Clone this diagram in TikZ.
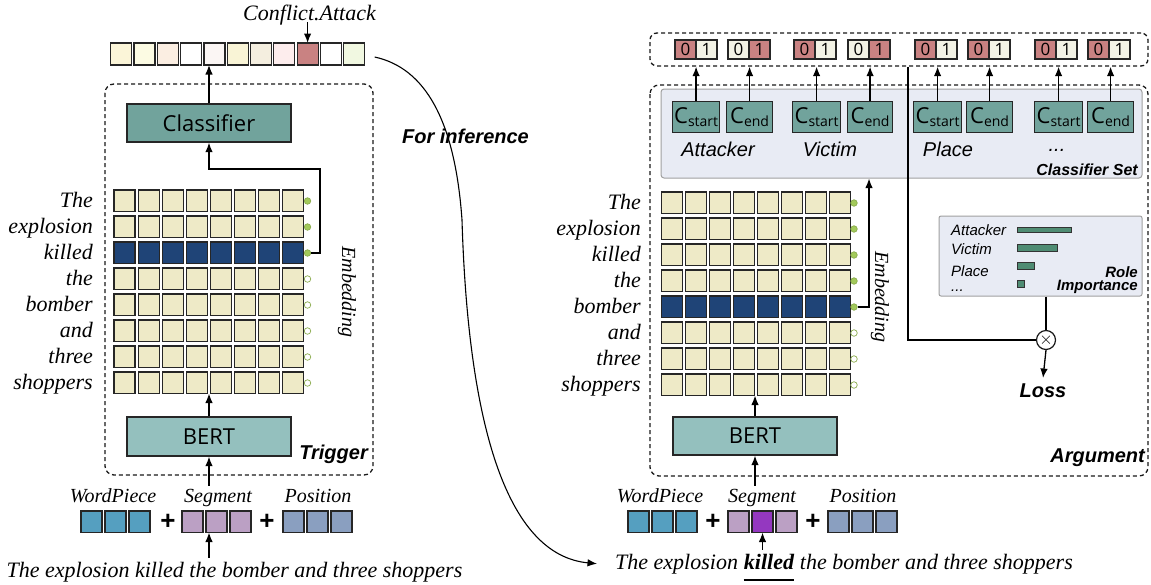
\documentclass[tikz,border=0pt]{standalone}
\usepackage{fontspec}
\setmainfont{Liberation Serif}
\setsansfont{Liberation Sans}
\newfontfamily\osans{Open Sans}
\usetikzlibrary{arrows.meta}
\newcommand\myfs[1]{\fontsize{#1}{#1}\selectfont}
\definecolor{cellY}{HTML}{EEEAC7}
\definecolor{cellB}{HTML}{1F4477}
\definecolor{dotG}{HTML}{A2C95A}
\definecolor{clfC}{HTML}{71A39C}
\definecolor{bertC}{HTML}{94C0BE}
\definecolor{redC}{HTML}{C98282}
\definecolor{lightC}{HTML}{F3F3E6}
\definecolor{setF}{HTML}{E8EBF4}
\definecolor{setD}{HTML}{A0A0A0}
\definecolor{barC}{HTML}{4F8C73}
\definecolor{wpC}{HTML}{559FC0}
\definecolor{segC}{HTML}{BBA0C4}
\definecolor{posC}{HTML}{8A9FC0}
\definecolor{segD}{HTML}{9438C0}
\definecolor{v0}{HTML}{FBF5D8}
\definecolor{v1}{HTML}{FCFBE3}
\definecolor{v2}{HTML}{FBEEE2}
\definecolor{v3}{HTML}{FFFFFF}
\definecolor{v4}{HTML}{FBF6F4}
\definecolor{v5}{HTML}{F9F4D6}
\definecolor{v6}{HTML}{F4EEDF}
\definecolor{v7}{HTML}{FDEDED}
\definecolor{v8}{HTML}{C98282}
\definecolor{v9}{HTML}{FFFFFF}
\definecolor{v10}{HTML}{F1F8E1}
\begin{document}
\begin{tikzpicture}[x=1pt,y=-1pt,
  cell/.style={draw=black!85, line width=1.2pt, minimum width=21pt, minimum height=21.5pt, inner sep=0pt, outer sep=0pt, anchor=north west},
  pcell/.style={cell, minimum height=19pt, font=\osans\myfs{17}},
  cbox/.style={draw=black!85, line width=1.2pt, fill=clfC, minimum height=31pt, inner sep=0pt, anchor=north west, font=\osans\myfs{22}},
  wordlbl/.style={font=\myfs{22}\itshape, anchor=base east, inner sep=0pt},
  lbl/.style={font=\myfs{20}\itshape, anchor=base, inner sep=0pt},
  sent/.style={font=\myfs{22}\itshape, inner sep=0pt},
  slbl/.style={font=\sffamily\itshape\myfs{20}, anchor=base, inner sep=0pt},
  bslbl/.style={font=\sffamily\bfseries\itshape\myfs{20}, inner sep=0pt},
  rlbl/.style={font=\sffamily\itshape\myfs{15}, anchor=base west, inner sep=0pt},
  plus/.style={font=\sffamily\bfseries\myfs{26}, inner sep=0pt},
  dot/.style={circle, draw=dotG!85!black, minimum size=6.5pt, inner sep=0pt, line width=0.7pt},
  arr/.style={-{Latex[length=9.5pt,width=7.5pt]}, line width=1.3pt},
  frame/.style={draw=black!90, dash pattern=on 4pt off 3pt, line width=1.3pt, rounded corners=9pt},
  bigbox/.style={draw=black!85, line width=1.3pt, inner sep=0pt, font=\osans\myfs{22}},
  bar/.style={draw=black!80, fill=barC, line width=0.8pt, inner sep=0pt, anchor=west},
  panel/.style={draw=setD, fill=setF, line width=1pt, inner sep=0pt}
]
\useasboundingbox (0,0) rectangle (1151,584);

%% ================= LEFT (Trigger) =================
\draw[frame] (105,84) rectangle (373,475);

% output vector
\foreach \c in {0,...,10}{
  \node[cell, minimum height=22pt, fill=v\c] (V\c) at ({110.7+23.3*\c},43) {};
}
\node[sent, anchor=base] (ca) at (309.5,20) {Conflict.Attack};
\draw[arr] ([yshift=-2pt]V8.north |- ca.base) -- (V8.north);

% classifier
\node[bigbox, fill=clfC, minimum width=164pt, minimum height=38pt] (clfL) at (209,123) {Classifier};
\draw[arr] (clfL.north) -- (clfL.north |- V4.south);

% grid
\foreach \r/\fc in {0/cellY,1/cellY,2/cellB,3/cellY,4/cellY,5/cellY,6/cellY,7/cellY}{
  \foreach \c in {0,...,7}{
    \node[cell, fill=\fc] (L\r-\c) at ({114+24.1*\c},{190+26*\r}) {};
  }
}
\foreach \r/\dfc in {0/dotG,1/dotG,2/dotG,3/white,4/white,5/white,6/white,7/white}{
  \node[dot, fill=\dfc] (Ld\r) at (307.5,{201+26*\r}) {};
}
\foreach \r/\w in {0/The,1/explosion,2/killed,3/the,4/bomber,5/and,6/three,7/shoppers}{
  \node[wordlbl] (Lw\r) at (93,{207.5+26*\r}) {\w};
}
\node[lbl, anchor=center, rotate=-90] (embL) at (347,292) {Embedding};
\coordinate (LeL) at (320,169);
\draw[arr] (Ld2.east) -| (LeL) -| (clfL.south);

% BERT
\node[bigbox, fill=bertC, minimum width=164pt, minimum height=39pt] (bertL) at (209,436.5) {BERT};
\draw[arr] (bertL.north) -- (bertL.north |- L7-0.south);
\node[bslbl, anchor=base east] (trig) at (368,459) {Trigger};

% input embeddings
\foreach \i/\x in {0/81,1/105,2/129}{ \node[cell, fill=wpC] (LW\i) at (\x,511) {}; }
\foreach \i/\x in {0/182,1/206,2/230}{ \node[cell, fill=segC] (LS\i) at (\x,511) {}; }
\foreach \i/\x in {0/283,1/307,2/331}{ \node[cell, fill=posC] (LP\i) at (\x,511) {}; }
\node[plus] (Lpl1) at (168,522) {+};
\node[plus] (Lpl2) at (267,522) {+};
\node[lbl] (LwpL) at (113,502) {WordPiece};
\node[lbl] (LsegL) at (218,502) {Segment};
\node[lbl] (LposL) at (318,502) {Position};
\draw[arr] ([yshift=3pt]bertL.south |- LsegL.north) -- (bertL.south);
\node[sent, anchor=base] (sentL) at (234.5,577) {The explosion killed the bomber and three shoppers};
\draw[arr] ([yshift=4pt]bertL.south |- sentL.north) -- (bertL.south |- LS1.south);

%% ================= RIGHT (Argument) =================
\draw[frame] (650,85) rectangle (1148,476);
\node[frame, rounded corners=7pt, minimum width=498pt, minimum height=33pt, inner sep=0pt] (topR) at (899,49.5) {};

% 0/1 pairs
\foreach \i/\x/\a/\b in {0/675/redC/lightC,1/728/lightC/redC,2/794/redC/lightC,3/848/lightC/redC,4/915/redC/lightC,5/968/redC/lightC,6/1035/redC/lightC,7/1088/redC/lightC}{
  \node[pcell, fill=\a] (P\i-0) at (\x,40) {0};
  \node[pcell, fill=\b] (P\i-1) at ({\x+21},40) {1};
}

% classifier set
\node[panel, rounded corners=3pt, minimum width=481pt, minimum height=89pt] (cset) at (901.5,133.5) {};
\foreach \i/\x/\w/\t in {0/672/47/start,1/726/46/end,2/792/48/start,3/847/45/end,4/913/48/start,5/966/46/end,6/1034/48/start,7/1087/46/end}{
  \node[cbox, minimum width=\w pt] (C\i) at (\x,101) {C\raisebox{-3pt}{\myfs{14}\t}};
  \draw[arr] (C\i.north) -- (C\i.north |- topR.south);
}
\node[slbl] (attL) at (718,156) {Attacker};
\node[slbl] (vicL) at (830,156) {Victim};
\node[slbl] (plaL) at (948,156) {Place};
\node[slbl] (dotsL) at (1057,151) {...};
\node[bslbl, font=\sffamily\bfseries\itshape\myfs{16}, anchor=base east] (csL) at (1138,175) {Classifier Set};

% grid
\foreach \r/\fc in {0/cellY,1/cellY,2/cellY,3/cellY,4/cellB,5/cellY,6/cellY,7/cellY}{
  \foreach \c in {0,...,7}{
    \node[cell, fill=\fc] (R\r-\c) at ({661.7+24*\c},{192+26*\r}) {};
  }
}
\foreach \r/\dfc in {0/dotG,1/dotG,2/dotG,3/dotG,4/dotG,5/white,6/white,7/white}{
  \node[dot, fill=\dfc] (Rd\r) at (854,{203+26*\r}) {};
}
\foreach \r/\w in {0/The,1/explosion,2/killed,3/the,4/bomber,5/and,6/three,7/shoppers}{
  \node[wordlbl] (Rw\r) at (641,{209.5+26*\r}) {\w};
}
\node[lbl, anchor=center, rotate=-90] (embR) at (880,297) {Embedding};
\coordinate (eR) at (869,307);
\draw[arr] (Rd4.east) -- (eR) -- (eR |- cset.south);

% role importance
\node[panel, rounded corners=2pt, minimum width=203pt, minimum height=80pt] (ri) at (1040.5,256) {};
\node[rlbl] (ra1) at (951,235.5) {Attacker};
\node[rlbl] (ra2) at (951,254.5) {Victim};
\node[rlbl] (ra3) at (951,276.5) {Place};
\node[rlbl] (ra4) at (951,291) {...};
\node[bar, minimum width=54pt, minimum height=5pt] (b1) at (1017,229.8) {};
\node[bar, minimum width=40pt, minimum height=6.5pt] (b2) at (1017,247.7) {};
\node[bar, minimum width=17pt, minimum height=6.5pt] (b3) at (1017,266) {};
\node[bar, minimum width=7pt, minimum height=7pt] (b4) at (1017,283.7) {};
\node[bslbl, font=\sffamily\bfseries\itshape\myfs{15}, anchor=base east] (roleL) at (1138,277) {Role};
\node[bslbl, font=\sffamily\bfseries\itshape\myfs{15}, anchor=base east] (impL) at (1138,290.5) {Importance};

% combine
\node[circle, draw=black!90, line width=1.2pt, fill=white, minimum size=19pt, inner sep=0pt] (ox) at (1046,340) {\myfs{16}$\times$};
\draw[line width=1.2pt] (ri.south -| ox) -- (ox.north);
\coordinate (vl) at (908,0);
\draw[line width=1.2pt] (topR.south -| vl) |- (ox.west);
\node[bslbl, anchor=base] (loss) at (1043,397) {Loss};
\draw[arr] (ox.south) -- ([yshift=5pt]loss.north);

% BERT right
\node[bigbox, fill=bertC, minimum width=164pt, minimum height=38pt] (bertR) at (755,436) {BERT};
\draw[arr] (bertR.north) -- (bertR.north |- R7-0.south);
\node[bslbl, anchor=base east] (argL) at (1145,462) {Argument};

% input embeddings right
\foreach \i/\x in {0/628,1/652,2/676}{ \node[cell, fill=wpC] (RW\i) at (\x,511) {}; }
\node[cell, fill=segC] (RS0) at (728,511) {};
\node[cell, fill=segD] (RS1) at (752,511) {};
\node[cell, fill=segC] (RS2) at (776,511) {};
\foreach \i/\x in {0/828,1/852,2/876}{ \node[cell, fill=posC] (RP\i) at (\x,511) {}; }
\node[plus] (Rpl1) at (713,522) {+};
\node[plus] (Rpl2) at (813,522) {+};
\node[lbl] (RwpL) at (660,502) {WordPiece};
\node[lbl] (RsegL) at (762,502) {Segment};
\node[lbl] (RposL) at (863,502) {Position};
\draw[arr] ([yshift=3pt]bertR.south |- RsegL.north) -- (bertR.south);

% sentence right
\node[sent, anchor=base west] (sR1) at (615,569) {The explosion\ \null};
\node[sent, anchor=base west] (sR2) at (sR1.base east) {\bfseries killed};
\node[sent, anchor=base west] (sR3) at (sR2.base east) {\null\ the bomber and three shoppers};
\draw[line width=1.3pt] ([yshift=-11pt]sR2.base west) -- ([yshift=-11pt]sR2.base east);
\draw[arr] ([yshift=4pt]RS1.south |- sR2.north) -- (RS1.south);

%% ================= inference curve =================
\draw[arr, line width=1.1pt] ([xshift=10pt,yshift=-3pt]V10.east) .. controls (425,68) and (455,120) .. (462,220)
   .. controls (468,420) and (505,555) .. ([xshift=-18pt]sR1.west);
\node[bslbl, anchor=base] (fiL) at (465.5,143) {For inference};
\end{tikzpicture}
\end{document}
